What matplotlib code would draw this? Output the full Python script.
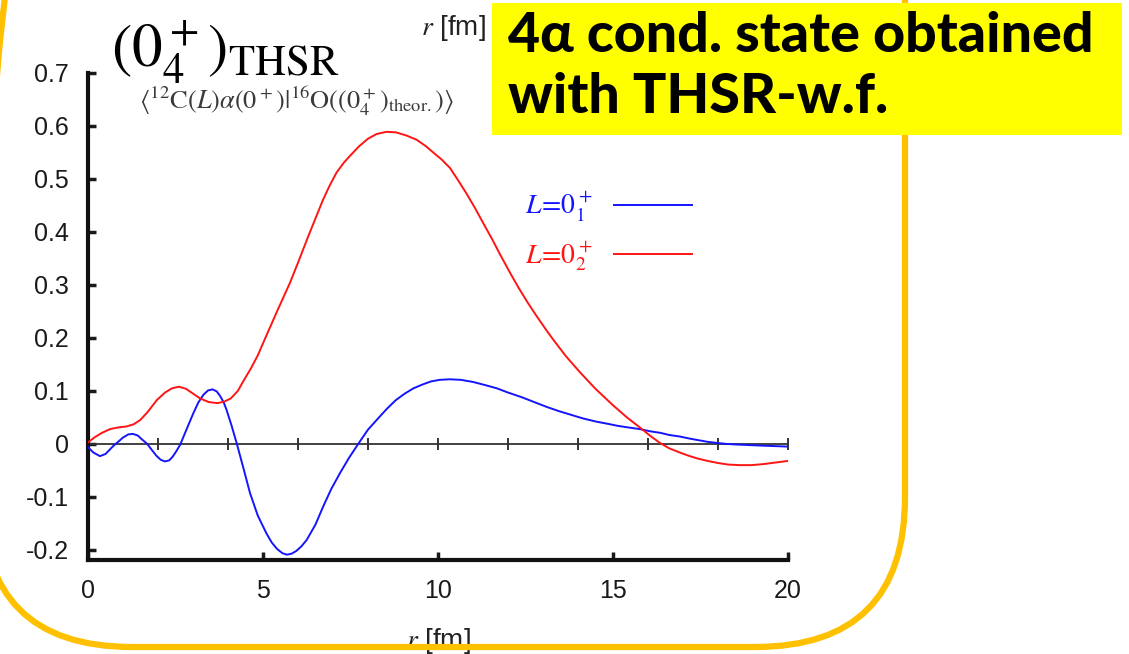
import matplotlib
matplotlib.use('Agg')
import matplotlib.pyplot as plt
from matplotlib.patches import FancyBboxPatch, Rectangle

W, H = 1129, 654

# ---- data ----
r_red = [0.0, 0.2, 0.4, 0.63, 0.85, 1.1, 1.3, 1.49, 1.7, 1.97, 2.2, 2.4, 2.6, 2.8, 3.0,
         3.2, 3.45, 3.7, 3.9, 4.08, 4.28, 4.46, 4.65, 4.85, 5.1, 5.4, 5.77, 6.0, 6.3,
         6.71, 6.9, 7.1, 7.3, 7.49, 7.75, 8.0, 8.25, 8.53, 8.8, 9.1, 9.39, 9.65, 9.9,
         10.1, 10.34, 10.55, 10.8, 11.05, 11.29, 11.55, 11.77, 12.05, 12.3, 12.55, 12.8,
         13.05, 13.29, 13.65, 14.06, 14.5, 15.0, 15.4, 15.77, 16.05, 16.34, 16.6, 16.9,
         17.15, 17.39, 17.7, 18.0, 18.3, 18.63, 18.95, 19.3, 19.65, 20.0]
v_red = [0.003, 0.013, 0.021, 0.028, 0.031, 0.033, 0.037, 0.045, 0.060, 0.083, 0.097,
         0.105, 0.108, 0.104, 0.095, 0.086, 0.079, 0.077, 0.080, 0.086, 0.100, 0.121,
         0.142, 0.167, 0.205, 0.250, 0.304, 0.342, 0.393, 0.460, 0.487, 0.512, 0.530,
         0.544, 0.562, 0.576, 0.585, 0.589, 0.588, 0.582, 0.574, 0.562, 0.548, 0.537,
         0.521, 0.500, 0.474, 0.446, 0.417, 0.386, 0.358, 0.324, 0.295, 0.268, 0.243,
         0.219, 0.197, 0.166, 0.135, 0.104, 0.073, 0.050, 0.031, 0.016, 0.002, -0.008,
         -0.016, -0.022, -0.027, -0.032, -0.036, -0.039, -0.040, -0.040, -0.038, -0.035,
         -0.032]

r_blue = [0.0, 0.15, 0.34, 0.5, 0.72, 1.0, 1.15, 1.28, 1.42, 1.55, 1.68, 1.82, 1.95,
          2.08, 2.2, 2.32, 2.42, 2.52, 2.63, 2.8, 3.01, 3.15, 3.3, 3.43, 3.56, 3.68, 3.78,
          3.88, 3.96, 4.1, 4.25, 4.45, 4.63, 4.85, 5.1, 5.25, 5.4, 5.55, 5.68, 5.82, 5.95,
          6.1, 6.25, 6.5, 6.72, 6.95, 7.2, 7.45, 7.72, 8.0, 8.34, 8.55, 8.8, 9.05, 9.3,
          9.55, 9.8, 10.05, 10.34, 10.65, 11.0, 11.35, 11.68, 12.0, 12.4, 12.75, 13.1,
          13.45, 13.8, 14.15, 14.53, 14.85, 15.15, 15.45, 15.77, 16.05, 16.35, 16.6, 16.91,
          17.2, 17.45, 17.7, 17.96, 18.25, 18.5, 18.85, 19.2, 19.6, 20.0]
v_blue = [-0.006, -0.016, -0.023, -0.019, -0.004, 0.012, 0.018, 0.019, 0.016, 0.008,
          0.001, -0.011, -0.022, -0.030, -0.033, -0.031, -0.024, -0.014, -0.002, 0.025,
          0.058, 0.078, 0.093, 0.101, 0.103, 0.099, 0.090, 0.078, 0.064, 0.035, 0.001,
          -0.048, -0.093, -0.135, -0.169, -0.186, -0.198, -0.206, -0.209, -0.207, -0.202,
          -0.193, -0.181, -0.152, -0.118, -0.085, -0.055, -0.027, 0.000, 0.027, 0.052,
          0.067, 0.083, 0.095, 0.105, 0.112, 0.118, 0.121, 0.122, 0.121, 0.117, 0.111,
          0.105, 0.097, 0.088, 0.079, 0.070, 0.062, 0.055, 0.048, 0.042, 0.038, 0.034,
          0.031, 0.028, 0.024, 0.021, 0.017, 0.014, 0.010, 0.007, 0.004, 0.002, 0.000,
          -0.001, -0.002, -0.003, -0.004, -0.005]

xticks = [0, 5, 10, 15, 20]
xtick_labels = ['0', '5', '10', '15', '20']
yticks = [-0.2, -0.1, 0.0, 0.1, 0.2, 0.3, 0.4, 0.5, 0.6, 0.7]
ytick_labels = ['-0.2', '-0.1', '0', '0.1', '0.2', '0.3', '0.4', '0.5', '0.6', '0.7']
zero_ticks = [2, 4, 6, 8, 10, 12, 14, 16, 18, 20]
legend_labels = [r'$L\!=\!0_1^+$', r'$L\!=\!0_2^+$']
title_text = r'$(0_4^+)_{\mathrm{THSR}}$'
subtitle_text = r'$\langle^{12}\mathrm{C}(L)\alpha(0^+)|^{16}\mathrm{O}((0_4^+)_{\mathrm{theor.}})\rangle$'
xlabel_text = r'$r$ [fm]'
box_line1 = '4α cond. state obtained'
box_line2 = 'with THSR-w.f.'

plt.rcParams['mathtext.fontset'] = 'stix'
plt.rcParams['font.family'] = ['Liberation Sans', 'DejaVu Sans']

fig = plt.figure(figsize=(W / 100, H / 100), dpi=100)
fig.patch.set_facecolor('white')

ax = fig.add_axes([88 / W, 1 - 560 / H, 700 / W, (560 - 73) / H])
ax.set_xlim(0, 20)
ax.set_ylim(-0.219, 0.700)
for s in ['top', 'right']:
    ax.spines[s].set_visible(False)
for s in ['left', 'bottom']:
    ax.spines[s].set_linewidth(3)
    ax.spines[s].set_color('#111111')
ax.set_xticks(xticks, xtick_labels)
ax.set_yticks(yticks, ytick_labels)
ax.tick_params(direction='in', length=6, width=2.5, labelsize=18, colors='#1a1a1a')
ax.tick_params(axis='x', pad=14)
ax.tick_params(axis='y', pad=14)
ax.set_xlabel(xlabel_text, fontsize=20, labelpad=16, color='#222222')

ax.axhline(0, color='#333333', lw=1.3, zorder=2)
ax.plot(zero_ticks, [0] * len(zero_ticks), ls='none', marker='|', ms=8, mew=1.4,
        color='#333333', zorder=2)
lb, = ax.plot(r_blue, v_blue, color='#1414ff', lw=1.4, zorder=3)
lr, = ax.plot(r_red, v_red, color='#ff1414', lw=1.4, zorder=3)

# overlay in pixel coordinates
ov = fig.add_axes([0, 0, 1, 1], zorder=5)
ov.set_xlim(0, W)
ov.set_ylim(H, 0)
ov.axis('off')
ov.patch.set_alpha(0)

ax.legend([lb, lr], legend_labels, loc='upper left', bbox_to_anchor=(525, 190),
          bbox_transform=ov.transData, frameon=False, markerfirst=False,
          handlelength=2.8, handletextpad=0.78, labelspacing=0.55, borderpad=0,
          borderaxespad=0, labelcolor='linecolor', prop={'size': 20})

ov.add_patch(FancyBboxPatch((-18, -300), 923, 947,
                            boxstyle='round,pad=0,rounding_size=150',
                            fill=False, ec='#FFC000', lw=4.5, zorder=2))
ov.add_patch(Rectangle((492, 3), 630, 132, fc='#FFFF00', ec='none', zorder=3))
ov.text(508, 52, box_line1, fontsize=40, fontweight='black', family=['Lato', 'DejaVu Sans'],
        va='baseline', ha='left', zorder=4)
ov.text(508, 113, box_line2, fontsize=40, fontweight='black', family=['Lato', 'DejaVu Sans'],
        va='baseline', ha='left', zorder=4)

ov.text(111, 68, title_text, fontsize=44, va='baseline', ha='left', color='black', zorder=1)
ov.text(139, 109, subtitle_text, fontsize=19, va='baseline', ha='left', color='#3a3a3a', zorder=1)
ov.text(421, 35, xlabel_text, fontsize=20, va='baseline', ha='left', color='#222222', zorder=1)

fig.savefig('out.png', dpi=100)
